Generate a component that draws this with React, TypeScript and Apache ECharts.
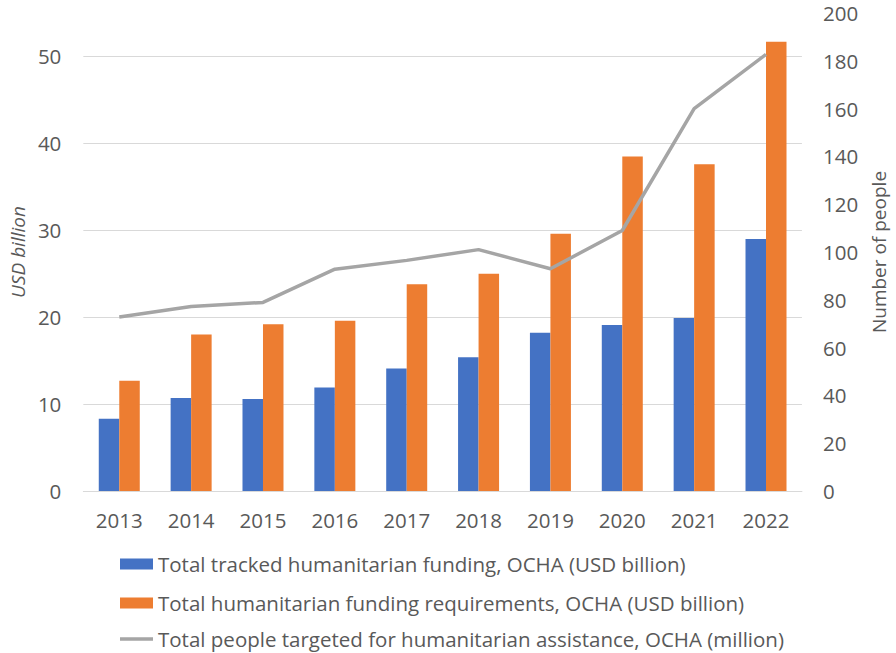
import React, { useEffect, useRef } from "react";
import * as echarts from "echarts";

const years = ["2013", "2014", "2015", "2016", "2017", "2018", "2019", "2020", "2021", "2022"];
const trackedFunding = [8.3, 10.7, 10.6, 11.9, 14.1, 15.4, 18.2, 19.1, 19.9, 29.0];
const fundingRequirements = [12.7, 18.0, 19.2, 19.6, 23.8, 25.0, 29.6, 38.5, 37.6, 51.7];
const peopleTargeted = [72.8, 77.2, 78.9, 92.8, 96.5, 101, 93, 109, 160, 182.7];

const seriesNames = [
  "Total tracked humanitarian funding, OCHA (USD billion)",
  "Total humanitarian funding requirements, OCHA (USD billion)",
  "Total people targeted for humanitarian assistance, OCHA (million)",
];

const FONT = "'Open Sans', 'Noto Sans', sans-serif";
const TEXT = "#595959";
const GRID = "#d9d9d9";
const COLORS = ["#4472C4", "#ED7D31", "#A5A5A5"];

export default function App() {
  const ref = useRef<HTMLDivElement>(null);
  useEffect(() => {
    if (!ref.current) return;
    const chart = echarts.init(ref.current, null, { renderer: "svg" });
    const legendTops = [553, 592, 628];
    const legends = seriesNames.map((name, i) => ({
      orient: "horizontal",
      left: 120,
      top: legendTops[i],
      padding: 0,
      itemWidth: 33,
      itemHeight: i === 2 ? 3.5 : 11,
      itemGap: 5,
      textStyle: { fontFamily: FONT, fontSize: 20.5, color: TEXT, lineHeight: 22 },
      data: [{ name, icon: "rect", itemStyle: { color: COLORS[i] } }],
    }));
    chart.setOption({
      animation: false,
      textStyle: { fontFamily: FONT },
      grid: { left: 78, right: 85, top: 13, bottom: 162, containLabel: false },
      legend: legends,
      xAxis: {
        type: "category",
        data: years,
        axisLine: { lineStyle: { color: GRID, width: 1 } },
        axisTick: { show: false },
        axisLabel: { color: TEXT, fontSize: 20.5, margin: 18, fontFamily: FONT },
      },
      yAxis: [
        {
          type: "value",
          min: 0,
          max: 55,
          interval: 10,
          name: "USD billion",
          nameLocation: "middle",
          nameGap: 54,
          nameTextStyle: { color: TEXT, fontSize: 19, fontStyle: "italic", fontFamily: FONT },
          axisLine: { show: false },
          axisTick: { show: false },
          axisLabel: { color: TEXT, fontSize: 20.5, margin: 22, showMaxLabel: false, fontFamily: FONT },
          splitLine: {
            lineStyle: { color: [GRID, GRID, GRID, GRID, GRID, GRID, "rgba(0,0,0,0)"], width: 1 },
          },
        },
        {
          type: "value",
          min: 0,
          max: 200,
          interval: 20,
          name: "Number of people",
          nameLocation: "middle",
          nameGap: 64,
          nameTextStyle: { color: TEXT, fontSize: 19, fontFamily: FONT },
          axisLine: { show: false },
          axisTick: { show: false },
          axisLabel: { color: TEXT, fontSize: 20.5, margin: 21, lineHeight: 16, fontFamily: FONT },
          splitLine: { show: false },
        },
      ],
      series: [
        {
          name: seriesNames[0],
          type: "bar",
          data: trackedFunding,
          barWidth: 20.5,
          barGap: "0%",
          itemStyle: { color: COLORS[0] },
        },
        {
          name: seriesNames[1],
          type: "bar",
          data: fundingRequirements,
          barWidth: 20.5,
          barGap: "0%",
          itemStyle: { color: COLORS[1] },
        },
        {
          name: seriesNames[2],
          type: "line",
          yAxisIndex: 1,
          data: peopleTargeted,
          symbol: "none",
          lineStyle: { color: COLORS[2], width: 3.5 },
          itemStyle: { color: COLORS[2] },
        },
      ],
    });
    return () => chart.dispose();
  }, []);
  return (
    <div
      ref={ref}
      style={{ position: "fixed", left: 0, top: 0, width: 896, height: 653, background: "#fff" }}
    />
  );
}
